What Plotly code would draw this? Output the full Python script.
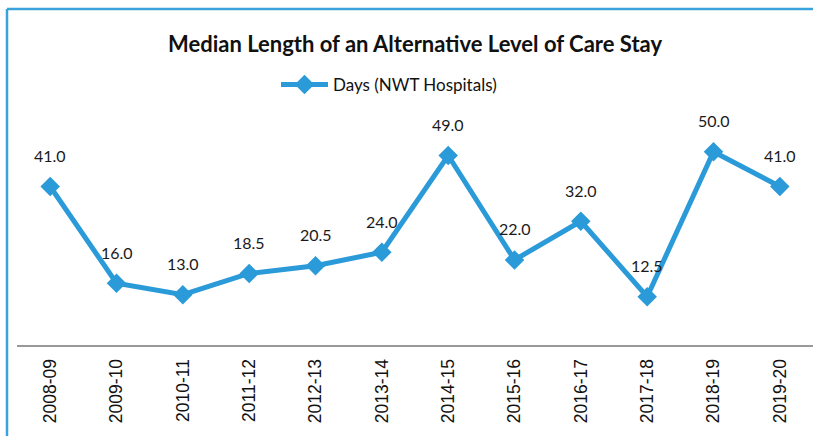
import plotly.graph_objects as go

years = ["2008-09", "2009-10", "2010-11", "2011-12", "2012-13", "2013-14",
         "2014-15", "2015-16", "2016-17", "2017-18", "2018-19", "2019-20"]
days = [41.0, 16.0, 13.0, 18.5, 20.5, 24.0, 49.0, 22.0, 32.0, 12.5, 50.0, 41.0]

LINE_BLUE = "#2b9ad8"
FRAME_BLUE = "#3ba3dc"

W, H = 813, 436
L, R, T, B = 17, 0, 113, 91
pw, ph = W - L - R, H - T - B


def px_x(x):
    return (x - L) / pw


def px_y(y):
    return (H - B - y) / ph


fig = go.Figure()
fig.add_trace(go.Scatter(
    x=years, y=days, mode="lines+markers", name="Days (NWT Hospitals)",
    line=dict(color=LINE_BLUE, width=5),
    marker=dict(symbol="diamond", size=15, color=LINE_BLUE),
))

for yr, v in zip(years, days):
    fig.add_annotation(x=yr, y=v, text=f"{v:.1f}", showarrow=False,
                       yshift=31, font=dict(family="Lato", size=16, color="#1a1a1a"))

# chart frame (top and left edges)
fig.add_shape(type="line", xref="paper", yref="paper",
              x0=px_x(7), x1=px_x(820), y0=px_y(9), y1=px_y(9),
              line=dict(color=FRAME_BLUE, width=2.5))
fig.add_shape(type="line", xref="paper", yref="paper",
              x0=px_x(7), x1=px_x(7), y0=px_y(9), y1=px_y(440),
              line=dict(color=FRAME_BLUE, width=2.5))

fig.update_layout(
    width=W, height=H,
    margin=dict(l=L, r=R, t=T, b=B),
    paper_bgcolor="white", plot_bgcolor="white",
    title=dict(text="<b>Median Length of an Alternative Level of Care Stay</b>",
               x=0.5, xref="paper", xanchor="center", y=1 - 44 / H, yanchor="middle",
               font=dict(family="Lato", size=22, color="#111")),
    showlegend=True,
    legend=dict(orientation="h", x=px_x(276), xanchor="left",
                y=px_y(85), yanchor="middle", bgcolor="rgba(0,0,0,0)",
                itemwidth=47,
                font=dict(family="Lato", size=17, color="#111")),
    xaxis=dict(type="category", showline=True, linecolor="#999", linewidth=2,
               ticks="", tickangle=-90, showgrid=False, zeroline=False,
               ticklabelstandoff=5,
               tickfont=dict(family="Liberation Sans", size=17.5, color="#111"),
               range=[-0.5, 11.5]),
    yaxis=dict(range=[0, 60], visible=False, showgrid=False, zeroline=False),
)

fig.write_html("out.html")
